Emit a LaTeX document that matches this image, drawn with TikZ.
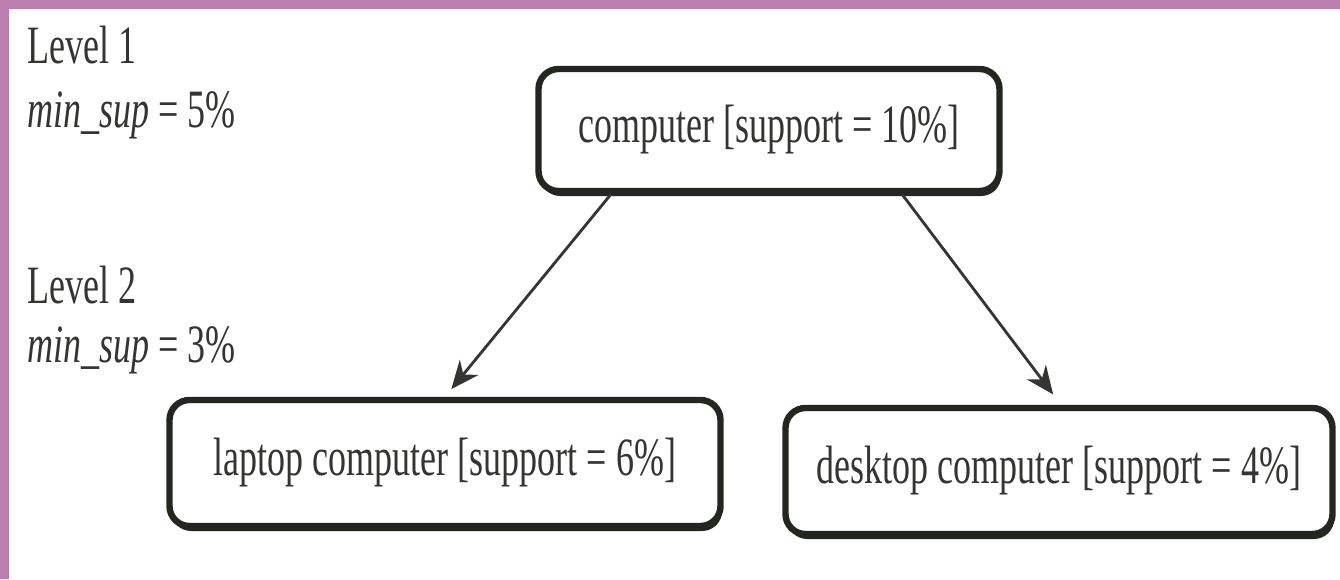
\documentclass[tikz,border=0pt]{standalone}
\usepackage{fontspec}
\setmainfont{Liberation Serif}
\usepackage{graphicx}
\usetikzlibrary{arrows.meta,shadows}

\definecolor{pagepink}{RGB}{186,127,175}
\definecolor{boxline}{RGB}{36,39,31}
\definecolor{inkgray}{RGB}{52,52,50}

\newcommand{\stretched}[1]{\scalebox{1}[1.5]{#1}}

\begin{document}
\begin{tikzpicture}[x=0.5pt,y=-0.5pt,
  item/.style={draw=boxline,line width=3.2pt,rounded corners=10pt,fill=white,inner sep=0pt,font=\fontsize{18}{20}\selectfont,text=inkgray,
    drop shadow={shadow xshift=0.8pt,shadow yshift=-2.5pt,fill=boxline,opacity=1}},
  levlab/.style={anchor=base west,inner sep=0pt,font=\fontsize{18}{20}\selectfont,text=inkgray},
  link/.style={-{Stealth[length=14pt,width=12pt]},line width=1.4pt,draw=inkgray}]
\useasboundingbox (0,0) rectangle (1340,579);
\fill[pagepink] (0,0) rectangle (1340,579);
\fill[white] (9,9) rectangle (1340,579);

% level labels
\node[levlab] (lv1) at (27,63) {\stretched{Level 1}};
\node[levlab] (ms1) at (27,127) {\stretched{\textit{min\_sup} = 5\%}};
\node[levlab] (lv2) at (27,303) {\stretched{Level 2}};
\node[levlab] (ms2) at (27,362) {\stretched{\textit{min\_sup} = 3\%}};

% items
\node[item,minimum width=230.5pt,minimum height=61pt] (cmp) at (769,130) {\stretched{computer [support = 10\%]}};
\node[item,minimum width=275.5pt,minimum height=63pt] (lap) at (445,463) {\stretched{laptop computer [support = 6\%]}};
\node[item,minimum width=273.5pt,minimum height=63pt] (dsk) at (1059,471) {\stretched{desktop computer [support = 4\%]}};

\draw[link,shorten >=5pt] ([xshift=-79pt]cmp.south) -- ([xshift=0pt]lap.north);
\draw[link,shorten >=6.5pt] ([xshift=66.5pt]cmp.south) -- ([xshift=1pt]dsk.north);
\end{tikzpicture}
\end{document}
